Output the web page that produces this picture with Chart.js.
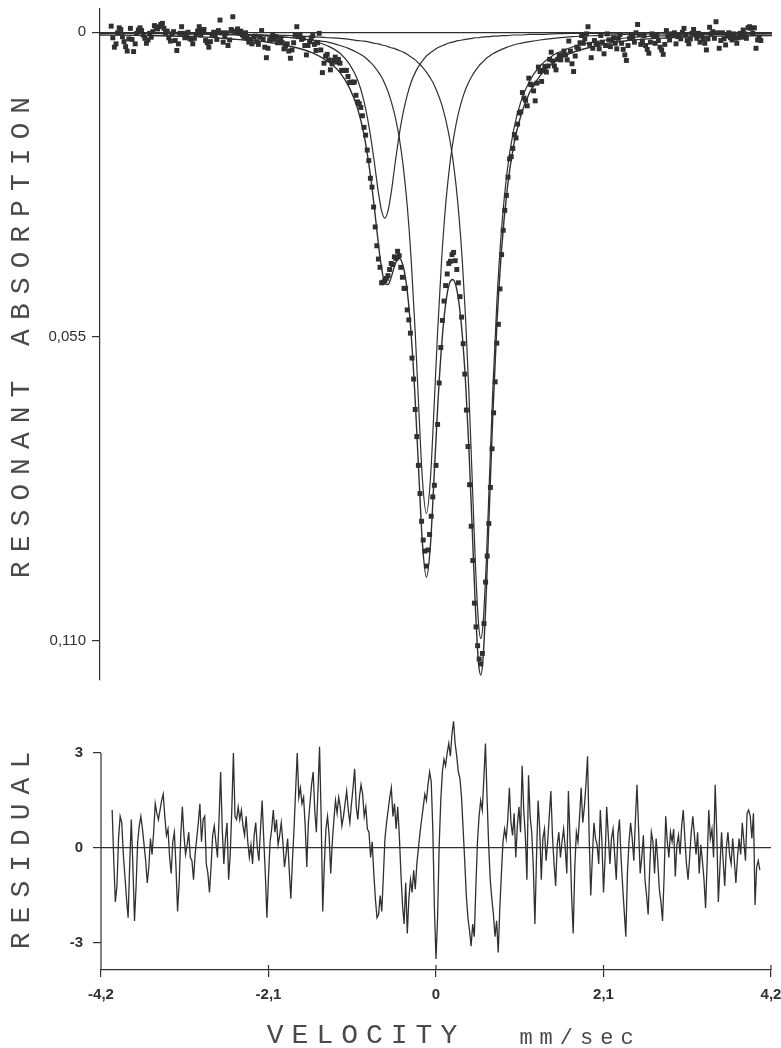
<!DOCTYPE html>
<html>
<head>
<meta charset="utf-8">
<title>Resonant absorption spectrum</title>
<script src="https://cdn.jsdelivr.net/npm/chart.js@4.4.1/dist/chart.umd.min.js"></script>
<style>
  html, body { margin: 0; padding: 0; background: #fff; }
  #page { position: relative; width: 781px; height: 1048px; overflow: hidden; background: #fff; }
  #spectrum { position: absolute; left: 0; top: 0; }
  #residual { position: absolute; left: 0; top: 690px; }
  .plotter {
    position: absolute;
    font-family: "Liberation Mono", "DejaVu Sans Mono", monospace;
    color: #4a4a4a;
    white-space: nowrap;
    line-height: 1;
  }
</style>
</head>
<body>
<div id="page">
  <canvas id="spectrum" width="781" height="690"></canvas>
  <canvas id="residual" width="781" height="358"></canvas>
  <div class="plotter" style="left:22px;top:333px;transform:translate(-50%,-50%) rotate(-90deg);font-size:28px;letter-spacing:9px;">RESONANT ABSORPTION</div>
  <div class="plotter" style="left:22px;top:846px;transform:translate(-50%,-50%) rotate(-90deg);font-size:28px;letter-spacing:9px;">RESIDUAL</div>
  <div class="plotter" style="left:366px;top:1036px;transform:translate(-50%,-50%);font-size:28px;letter-spacing:8px;">VELOCITY</div>
  <div class="plotter" style="left:580px;top:1039px;transform:translate(-50%,-50%);font-size:22px;letter-spacing:7px;">mm/sec</div>
</div>
<script>
// Channel calibration of the velocity drive (mm/sec)
const CHANNEL_START = -4.06;
const CHANNEL_STEP = 0.02;

// Measured resonant absorption per channel
const ABSORPTION = [
  -0.0011, 0.0010, 0.0027, 0.0021, 0.0001, -0.0008, -0.0005, 0.0008, 0.0017, 0.0026,
  0.0034, 0.0012, -0.0007, 0.0013, 0.0035, 0.0021, 0.0002, -0.0004, -0.0008, -0.0003,
  0.0005, 0.0011, 0.0020, 0.0014, 0.0002, 0.0009, -0.0001, -0.0012, -0.0008, -0.0006,
  -0.0010, -0.0014, -0.0016, -0.0007, 0.0001, -0.0002, 0.0010, 0.0016, 0.0003, -0.0001,
  0.0015, 0.0033, 0.0021, 0.0002, -0.0010, 0.0002, 0.0010, 0.0006, 0.0000, 0.0011,
  0.0013, 0.0021, 0.0011, 0.0004, -0.0002, -0.0010, 0.0005, -0.0004, -0.0005, 0.0015,
  0.0019, 0.0027, 0.0017, 0.0004, 0.0000, 0.0006, 0.0013, -0.0003, -0.0022, 0.0001,
  0.0018, 0.0007, 0.0001, 0.0024, 0.0014, -0.0005, -0.0028, -0.0002, -0.0001, -0.0006,
  0.0002, -0.0002, 0.0005, 0.0009, 0.0001, 0.0011, 0.0018, 0.0013, 0.0021, 0.0009,
  0.0007, 0.0017, 0.0022, 0.0009, -0.0003, 0.0013, 0.0027, 0.0046, 0.0029, 0.0014,
  0.0012, 0.0004, 0.0013, 0.0008, 0.0019, 0.0017, 0.0012, 0.0019, 0.0030, 0.0025,
  0.0021, 0.0034, 0.0047, 0.0032, 0.0019, 0.0005, -0.0010, 0.0008, 0.0005, 0.0013,
  0.0011, 0.0024, 0.0041, 0.0024, 0.0017, 0.0010, 0.0006, 0.0022, 0.0033, 0.0019,
  0.0002, 0.0032, 0.0073, 0.0056, 0.0043, 0.0040, 0.0050, 0.0068, 0.0057, 0.0051,
  0.0045, 0.0054, 0.0049, 0.0056, 0.0069, 0.0069, 0.0069, 0.0069, 0.0080, 0.0091,
  0.0090, 0.0091, 0.0090, 0.0114, 0.0126, 0.0129, 0.0136, 0.0151, 0.0172, 0.0186,
  0.0213, 0.0232, 0.0264, 0.0280, 0.0316, 0.0352, 0.0386, 0.0410, 0.0425, 0.0453,
  0.0452, 0.0449, 0.0445, 0.0440, 0.0429, 0.0418, 0.0420, 0.0406, 0.0409, 0.0396,
  0.0404, 0.0425, 0.0443, 0.0463, 0.0463, 0.0502, 0.0520, 0.0544, 0.0589, 0.0627,
  0.0682, 0.0731, 0.0783, 0.0834, 0.0884, 0.0918, 0.0938, 0.0965, 0.0936, 0.0908,
  0.0875, 0.0840, 0.0819, 0.0783, 0.0709, 0.0634, 0.0570, 0.0521, 0.0486, 0.0458,
  0.0437, 0.0418, 0.0414, 0.0402, 0.0398, 0.0413, 0.0429, 0.0453, 0.0478, 0.0515,
  0.0563, 0.0618, 0.0683, 0.0749, 0.0818, 0.0893, 0.0955, 0.1032, 0.1075, 0.1109,
  0.1133, 0.1142, 0.1123, 0.1069, 0.0994, 0.0947, 0.0888, 0.0823, 0.0753, 0.0688,
  0.0632, 0.0562, 0.0528, 0.0464, 0.0402, 0.0358, 0.0322, 0.0295, 0.0262, 0.0229,
  0.0225, 0.0210, 0.0185, 0.0191, 0.0166, 0.0146, 0.0144, 0.0109, 0.0119, 0.0123,
  0.0133, 0.0083, 0.0094, 0.0095, 0.0106, 0.0124, 0.0092, 0.0063, 0.0071, 0.0089,
  0.0069, 0.0062, 0.0072, 0.0061, 0.0049, 0.0036, 0.0052, 0.0061, 0.0068, 0.0049,
  0.0041, 0.0050, 0.0041, 0.0034, 0.0041, 0.0050, 0.0016, 0.0034, 0.0057, 0.0071,
  0.0043, 0.0027, 0.0030, 0.0019, 0.0006, 0.0020, 0.0012, 0.0003, -0.0010, 0.0022,
  0.0046, 0.0029, 0.0015, 0.0020, 0.0022, 0.0030, 0.0006, 0.0018, 0.0039, 0.0024,
  0.0003, 0.0014, 0.0026, 0.0014, 0.0010, 0.0020, 0.0030, 0.0011, 0.0004, 0.0020,
  0.0031, 0.0041, 0.0051, 0.0024, 0.0011, 0.0004, 0.0009, 0.0018, 0.0001, -0.0014,
  0.0004, 0.0022, 0.0016, 0.0006, 0.0024, 0.0031, 0.0038, 0.0018, 0.0003, 0.0007,
  0.0020, 0.0006, 0.0015, 0.0027, 0.0032, 0.0040, 0.0022, -0.0003, 0.0007, 0.0014,
  0.0003, 0.0006, 0.0001, 0.0021, 0.0008, 0.0004, 0.0012, 0.0000, -0.0007, 0.0005,
  0.0015, 0.0021, 0.0012, 0.0002, -0.0005, 0.0003, 0.0011, 0.0002, 0.0018, 0.0007,
  0.0012, 0.0020, 0.0032, 0.0012, -0.0009, 0.0003, -0.0001, 0.0011, -0.0019, 0.0001,
  0.0029, 0.0015, 0.0001, 0.0012, 0.0023, 0.0007, 0.0001, 0.0010, 0.0014, 0.0003,
  0.0011, 0.0020, 0.0010, 0.0002, 0.0009, -0.0004, 0.0003, 0.0011, -0.0008, -0.0010,
  -0.0007, 0.0002, -0.0008, 0.0029, 0.0014, 0.0011, 0.0015
];

// Normalised residual per channel (fit minus measurement, in standard deviations)
const RESIDUAL = [
  1.2, -0.4, -1.7, -1.2, 0.3, 1.0, 0.8, -0.2, -0.9, -1.6,
  -2.2, -0.5, 0.9, -0.6, -2.3, -1.2, 0.2, 0.7, 1.0, 0.6,
  0.1, -0.4, -1.1, -0.6, 0.3, -0.2, 0.5, 1.4, 1.1, 0.9,
  1.2, 1.5, 1.7, 1.0, 0.4, 0.6, -0.3, -0.8, 0.2, 0.5,
  -0.6, -2.0, -1.1, 0.4, 1.3, 0.4, -0.2, 0.1, 0.5, -0.3,
  -0.4, -1.0, -0.2, 0.3, 0.8, 1.4, 0.2, 0.9, 1.0, -0.5,
  -0.8, -1.4, -0.6, 0.4, 0.7, 0.2, -0.3, 0.9, 2.4, 0.6,
  -0.5, 0.3, 0.8, -1.0, -0.2, 1.2, 3.0, 1.0, 0.9, 1.3,
  0.9, 1.2, 0.7, 0.4, 1.0, 0.2, -0.3, 0.1, -0.5, 0.4,
  0.8, 0.0, -0.4, 0.6, 1.5, 0.3, -0.8, -2.2, -0.9, 0.2,
  0.6, 1.2, 0.5, 0.9, 0.1, 0.4, 0.8, 0.2, -0.6, -0.2,
  0.3, -0.7, -1.6, -0.4, 0.6, 1.8, 3.0, 1.6, 1.9, 1.4,
  1.6, 0.7, -0.6, 0.8, 1.4, 2.0, 2.4, 1.2, 0.5, 1.8,
  3.2, 1.0, -2.0, -0.5, 0.6, 1.0, 0.4, -0.8, 0.2, 0.9,
  1.5, 1.1, 1.6, 1.3, 0.7, 1.0, 1.4, 1.8, 1.2, 0.8,
  1.4, 1.9, 2.5, 1.3, 0.9, 1.6, 2.0, 1.7, 1.0, 1.3,
  0.6, 0.5, -0.3, 0.2, -0.8, -1.6, -2.2, -2.1, -1.5, -2.0,
  -0.9, 0.3, 0.8, 1.2, 1.6, 1.9, 1.0, 1.4, 0.6, 1.3,
  0.4, -0.8, -1.8, -2.4, -1.1, -2.7, -1.6, -1.0, -1.4, -0.7,
  -1.3, -0.5, 0.0, 0.5, 0.9, 1.3, 1.7, 1.5, 2.0, 2.4,
  2.1, 0.6, -1.9, -3.5, -2.2, 0.1, 1.5, 2.4, 2.8, 2.6,
  3.0, 3.3, 2.9, 3.6, 4.0, 3.3, 2.9, 2.4, 2.2, 1.6,
  0.6, -0.4, -1.5, -2.2, -2.6, -3.1, -2.4, -2.8, -1.2, 0.2,
  1.0, 1.5, 1.2, 2.2, 3.3, 1.6, 0.1, -1.0, -1.6, -2.1,
  -2.8, -2.3, -3.3, -1.9, -0.8, 0.2, 0.6, 0.3, 0.9, 1.9,
  0.8, 0.4, 1.1, -0.3, 0.7, 1.3, 0.5, 2.6, 1.2, 0.4,
  -1.0, 2.3, 1.0, 0.5, -0.6, -2.4, -0.3, 1.5, 0.6, -1.0,
  0.3, 0.6, -0.4, 0.2, 1.0, 1.8, 0.4, -0.5, -1.2, 0.1,
  0.5, -0.3, 0.2, 0.6, 0.0, -0.8, 1.8, 0.3, -1.5, -2.7,
  -0.6, 0.5, 0.2, 1.0, 1.9, 0.8, 1.3, 2.0, 2.9, 0.4,
  -1.5, -0.3, 0.8, 0.3, 0.1, -0.5, 1.2, 0.2, -1.4, -0.3,
  1.3, 0.4, -0.5, 0.3, 0.6, -0.2, -1.0, 0.4, 0.9, -0.3,
  -1.2, -2.0, -2.8, -0.8, 0.2, 0.8, 0.3, -0.4, 0.9, 2.0,
  0.6, -0.8, -0.3, 0.4, -1.0, -1.5, -2.1, -0.6, 0.5, 0.2,
  -0.8, 0.3, -0.4, -1.3, -1.7, -2.3, -0.9, 1.0, 0.2, -0.3,
  0.5, 0.2, 0.6, -0.9, 0.1, 0.4, -0.2, 0.7, 1.2, 0.3,
  -0.5, -1.0, -0.3, 0.5, 1.0, 0.4, -0.2, 0.5, -0.8, 0.1,
  -0.4, -1.0, -1.9, -0.4, 1.2, 0.3, 0.6, -0.3, 2.0, 0.5,
  -1.7, -0.6, 0.5, -0.4, -1.2, 0.0, 0.5, -0.2, -0.5, 0.3,
  -0.4, -1.1, -0.3, 0.3, -0.2, 0.8, 0.2, -0.4, 1.1, 1.2,
  1.0, 0.3, 1.1, -1.8, -0.6, -0.4, -0.7
];

// Velocities at which the fitted curves are tabulated (mm/sec)
const FIT_VELOCITY = [
  -4.2, -3.6, -3.0, -2.5, -2.1, -1.8, -1.55, -1.35, -1.2, -1.08,
  -0.98, -0.9, -0.83, -0.77, -0.72, -0.68, -0.64, -0.6, -0.56, -0.51,
  -0.46, -0.41, -0.36, -0.31, -0.26, -0.21, -0.17, -0.12, -0.07, -0.03,
  0.02, 0.07, 0.12, 0.17, 0.21, 0.25, 0.29, 0.33, 0.37, 0.41,
  0.45, 0.49, 0.53, 0.56, 0.59, 0.63, 0.67, 0.71, 0.76, 0.82,
  0.89, 0.97, 1.06, 1.17, 1.3, 1.47, 1.7, 2.0, 2.4, 2.9,
  3.5, 4.2
];

// Fitted sub-spectra: weak line near -0.64, and the two strong lines near -0.12 and +0.56
const FIT_LINE_A = [
  0.0001, 0.0002, 0.0002, 0.0004, 0.0006, 0.0010, 0.0015, 0.0025, 0.0038, 0.0058,
  0.0086, 0.0125, 0.0177, 0.0236, 0.0290, 0.0323, 0.0336, 0.0323, 0.0290, 0.0236,
  0.0186, 0.0145, 0.0114, 0.0090, 0.0073, 0.0060, 0.0052, 0.0043, 0.0037, 0.0033,
  0.0028, 0.0025, 0.0022, 0.0019, 0.0018, 0.0016, 0.0015, 0.0014, 0.0013, 0.0012,
  0.0011, 0.0010, 0.0010, 0.0009, 0.0009, 0.0008, 0.0008, 0.0007, 0.0007, 0.0006,
  0.0006, 0.0005, 0.0005, 0.0004, 0.0004, 0.0003, 0.0002, 0.0002, 0.0001, 0.0001,
  0.0001, 0.0001
];
const FIT_LINE_B = [
  0.0002, 0.0002, 0.0003, 0.0005, 0.0007, 0.0010, 0.0014, 0.0018, 0.0024, 0.0030,
  0.0037, 0.0044, 0.0053, 0.0062, 0.0072, 0.0081, 0.0093, 0.0107, 0.0125, 0.0153,
  0.0190, 0.0242, 0.0313, 0.0412, 0.0542, 0.0696, 0.0808, 0.0870, 0.0808, 0.0696,
  0.0542, 0.0412, 0.0313, 0.0242, 0.0200, 0.0167, 0.0141, 0.0120, 0.0103, 0.0090,
  0.0079, 0.0070, 0.0062, 0.0057, 0.0053, 0.0047, 0.0043, 0.0039, 0.0035, 0.0031,
  0.0027, 0.0023, 0.0020, 0.0017, 0.0014, 0.0011, 0.0008, 0.0006, 0.0004, 0.0003,
  0.0002, 0.0002
];
const FIT_LINE_C = [
  0.0002, 0.0002, 0.0003, 0.0004, 0.0005, 0.0006, 0.0008, 0.0010, 0.0011, 0.0013,
  0.0015, 0.0016, 0.0018, 0.0020, 0.0021, 0.0023, 0.0024, 0.0026, 0.0028, 0.0030,
  0.0033, 0.0036, 0.0040, 0.0045, 0.0050, 0.0057, 0.0063, 0.0072, 0.0083, 0.0093,
  0.0110, 0.0130, 0.0157, 0.0192, 0.0229, 0.0276, 0.0337, 0.0416, 0.0518, 0.0647,
  0.0798, 0.0952, 0.1066, 0.1096, 0.1066, 0.0952, 0.0798, 0.0647, 0.0490, 0.0355,
  0.0251, 0.0177, 0.0126, 0.0088, 0.0061, 0.0041, 0.0027, 0.0017, 0.0010, 0.0006,
  0.0004, 0.0003
];
// Envelope of the complete fit
const FIT_TOTAL = [
  0.0005, 0.0006, 0.0008, 0.0013, 0.0018, 0.0026, 0.0037, 0.0053, 0.0073, 0.0101,
  0.0138, 0.0185, 0.0248, 0.0318, 0.0383, 0.0427, 0.0453, 0.0456, 0.0443, 0.0419,
  0.0409, 0.0423, 0.0467, 0.0547, 0.0665, 0.0813, 0.0923, 0.0985, 0.0928, 0.0822,
  0.0680, 0.0567, 0.0492, 0.0453, 0.0447, 0.0459, 0.0493, 0.0550, 0.0634, 0.0749,
  0.0888, 0.1032, 0.1138, 0.1162, 0.1128, 0.1007, 0.0849, 0.0693, 0.0532, 0.0392,
  0.0284, 0.0205, 0.0151, 0.0109, 0.0079, 0.0055, 0.0037, 0.0025, 0.0015, 0.0010,
  0.0007, 0.0006
];

// Axis ticks
const ABSORPTION_TICKS = [0, 0.055, 0.110];
const ABSORPTION_TICK_LABELS = ['0', '0,055', '0,110'];
const RESIDUAL_TICKS = [-3, 0, 3];
const RESIDUAL_TICK_LABELS = ['-3', '0', '3'];
const VELOCITY_TICKS = [-4.2, -2.1, 0, 2.1, 4.2];
const VELOCITY_TICK_LABELS = ['-4,2', '-2,1', '0', '2,1', '4,2'];

const INK = '#303030';

const channelVelocity = i => CHANNEL_START + i * CHANNEL_STEP;
const curve = values => FIT_VELOCITY.map((v, i) => ({ x: v, y: values[i] }));
const zeroOnly = c => (c.tick && c.tick.value === 0 ? INK : 'rgba(0,0,0,0)');

const fitLine = (label, values, width) => ({
  type: 'line',
  label,
  data: curve(values),
  borderColor: INK,
  borderWidth: width,
  pointRadius: 0,
  fill: false,
  cubicInterpolationMode: 'monotone'
});

new Chart(document.getElementById('spectrum'), {
  type: 'scatter',
  data: {
    datasets: [
      fitLine('Line A', FIT_LINE_A, 1.2),
      fitLine('Line B', FIT_LINE_B, 1.2),
      fitLine('Line C', FIT_LINE_C, 1.2),
      fitLine('Fit', FIT_TOTAL, 1.4),
      {
        label: 'Measured',
        data: ABSORPTION.map((a, i) => ({ x: channelVelocity(i), y: a })),
        pointStyle: 'rect',
        pointRadius: 3.5,
        backgroundColor: INK,
        borderWidth: 0,
        showLine: false
      }
    ]
  },
  options: {
    responsive: false,
    animation: false,
    devicePixelRatio: 1,
    layout: { padding: { top: 9, right: 9, bottom: 10, left: 0 } },
    plugins: { legend: { display: false }, tooltip: { enabled: false } },
    scales: {
      x: { type: 'linear', min: -4.2, max: 4.2, display: false },
      y: {
        type: 'linear',
        reverse: true,
        min: -0.0042,
        max: 0.1171,
        afterBuildTicks: s => { s.ticks = ABSORPTION_TICKS.map(v => ({ value: v })); },
        afterFit: s => { s.width = 100; s.paddingTop = 0; s.paddingBottom = 0; },
        ticks: {
          callback: (v, i) => ABSORPTION_TICK_LABELS[i],
          font: { family: 'Liberation Sans', size: 15 },
          color: INK,
          padding: 6
        },
        grid: { drawOnChartArea: true, color: zeroOnly, tickColor: INK, tickLength: 8, lineWidth: 1.2 },
        border: { display: true, color: INK, width: 1.2 }
      }
    }
  }
});

// Left axis of the residual panel runs from the top tick down to the velocity axis,
// and the velocity ticks cross the axis line.
const residualFrame = {
  id: 'residualFrame',
  afterDraw(chart) {
    const { ctx, chartArea, scales } = chart;
    const top = scales.y.getPixelForValue(Math.max(...RESIDUAL_TICKS));
    ctx.save();
    ctx.strokeStyle = INK;
    ctx.lineWidth = 1.2;
    ctx.beginPath();
    ctx.moveTo(chartArea.left, top);
    ctx.lineTo(chartArea.left, chartArea.bottom);
    VELOCITY_TICKS.forEach(v => {
      const px = scales.x.getPixelForValue(v);
      ctx.moveTo(px, chartArea.bottom - 5);
      ctx.lineTo(px, chartArea.bottom);
    });
    ctx.stroke();
    ctx.restore();
  }
};

new Chart(document.getElementById('residual'), {
  type: 'line',
  data: {
    datasets: [{
      label: 'Residual',
      data: RESIDUAL.map((r, i) => ({ x: channelVelocity(i), y: r })),
      borderColor: INK,
      borderWidth: 1.3,
      pointRadius: 0,
      tension: 0,
      fill: false
    }]
  },
  options: {
    responsive: false,
    animation: false,
    devicePixelRatio: 1,
    layout: { padding: { top: 25, right: 10, bottom: 0, left: 0 } },
    plugins: { legend: { display: false }, tooltip: { enabled: false } },
    scales: {
      x: {
        type: 'linear',
        min: -4.2,
        max: 4.2,
        afterBuildTicks: s => { s.ticks = VELOCITY_TICKS.map(v => ({ value: v })); },
        afterFit: s => { s.height = 78; s.paddingLeft = 0; s.paddingRight = 0; },
        ticks: {
          callback: (v, i) => VELOCITY_TICK_LABELS[i],
          font: { family: 'Liberation Sans', size: 15, weight: 'bold' },
          color: INK,
          padding: 9,
          maxRotation: 0,
          autoSkip: false
        },
        grid: { drawOnChartArea: false, tickColor: INK, tickLength: 7, lineWidth: 1.2 },
        border: { display: true, color: INK, width: 1.2 }
      },
      y: {
        type: 'linear',
        min: -3.85,
        max: 4.2,
        afterBuildTicks: s => { s.ticks = RESIDUAL_TICKS.map(v => ({ value: v })); },
        afterFit: s => { s.width = 101; s.paddingTop = 0; s.paddingBottom = 0; },
        ticks: {
          callback: (v, i) => RESIDUAL_TICK_LABELS[i],
          font: { family: 'Liberation Sans', size: 15, weight: 'bold' },
          color: INK,
          padding: 10
        },
        grid: { drawOnChartArea: true, color: zeroOnly, tickColor: INK, tickLength: 8, lineWidth: 1.2 },
        border: { display: false }
      }
    }
  },
  plugins: [residualFrame]
});
</script>
</body>
</html>
